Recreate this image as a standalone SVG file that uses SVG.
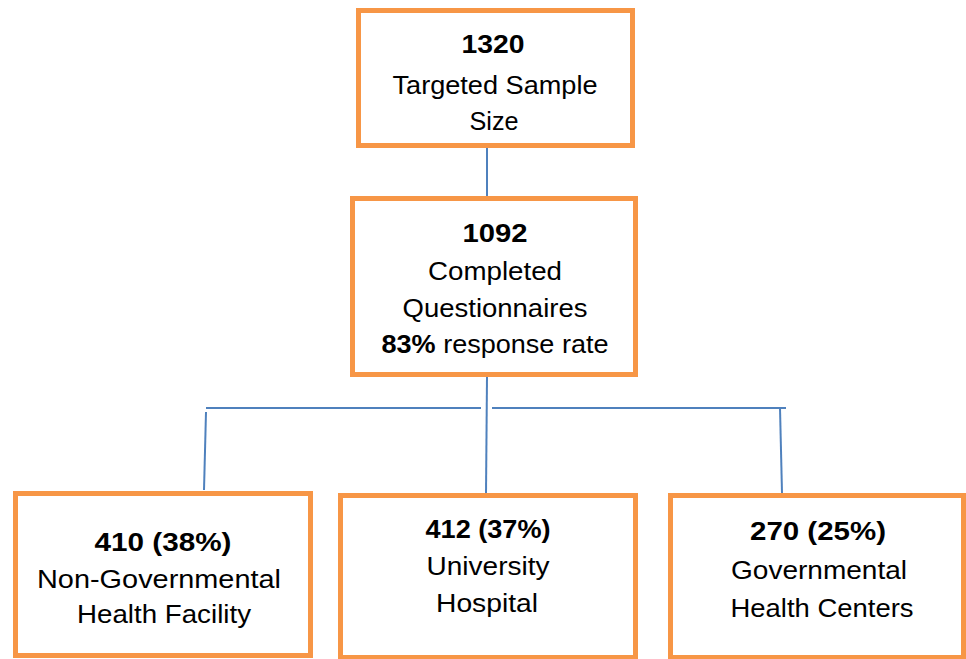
<svg xmlns="http://www.w3.org/2000/svg" width="966" height="659" viewBox="0 0 966 659">
<style>
.box{fill:#fff;stroke:#F79646;stroke-width:5}
.con{stroke:#4F81BD;stroke-width:2;fill:none}
text{font-family:"Liberation Sans",Arial,sans-serif;font-size:26px;fill:#000;text-anchor:middle}
.b{font-weight:bold}
</style>
<rect width="966" height="659" fill="#fff"/>
<g id="connectors">
<path class="con" d="M487 148 V196"/>
<path class="con" d="M487 377 L486 493"/>
<path class="con" d="M206 408 H481"/>
<path class="con" d="M492 408 H786"/>
<path class="con" d="M206 412 L204 490"/>
<path class="con" d="M780 408 L782 493"/>
</g>
<g id="target">
<rect class="box" x="358.5" y="10.5" width="274" height="135"/>
<text class="b" x="493" y="53" textLength="63" lengthAdjust="spacingAndGlyphs">1320</text>
<text x="495" y="94" textLength="205" lengthAdjust="spacingAndGlyphs">Targeted Sample</text>
<text x="494" y="130" textLength="49" lengthAdjust="spacingAndGlyphs">Size</text>
</g>
<g id="completed">
<rect class="box" x="352.5" y="198.5" width="283" height="176"/>
<text class="b" x="495" y="242" textLength="65" lengthAdjust="spacingAndGlyphs">1092</text>
<text x="495" y="280" textLength="134" lengthAdjust="spacingAndGlyphs">Completed</text>
<text x="495" y="317" textLength="185" lengthAdjust="spacingAndGlyphs">Questionnaires</text>
<text x="495" y="353" textLength="227" lengthAdjust="spacingAndGlyphs"><tspan class="b">83%</tspan> response rate</text>
</g>
<g id="ngo">
<rect class="box" x="15.5" y="493.5" width="295" height="162"/>
<text class="b" x="163" y="551" textLength="137" lengthAdjust="spacingAndGlyphs">410 (38%)</text>
<text x="159" y="588" textLength="244" lengthAdjust="spacingAndGlyphs">Non-Governmental</text>
<text x="164" y="623" textLength="174" lengthAdjust="spacingAndGlyphs">Health Facility</text>
</g>
<g id="university">
<rect class="box" x="340.5" y="495.5" width="295" height="162"/>
<text class="b" x="488" y="538" textLength="125" lengthAdjust="spacingAndGlyphs">412 (37%)</text>
<text x="488" y="575" textLength="123" lengthAdjust="spacingAndGlyphs">University</text>
<text x="487" y="612" textLength="102" lengthAdjust="spacingAndGlyphs">Hospital</text>
</g>
<g id="governmental">
<rect class="box" x="670.5" y="495.5" width="293" height="162"/>
<text class="b" x="818" y="540" textLength="136" lengthAdjust="spacingAndGlyphs">270 (25%)</text>
<text x="819" y="579" textLength="176" lengthAdjust="spacingAndGlyphs">Governmental</text>
<text x="822" y="617" textLength="183" lengthAdjust="spacingAndGlyphs">Health Centers</text>
</g>
</svg>
